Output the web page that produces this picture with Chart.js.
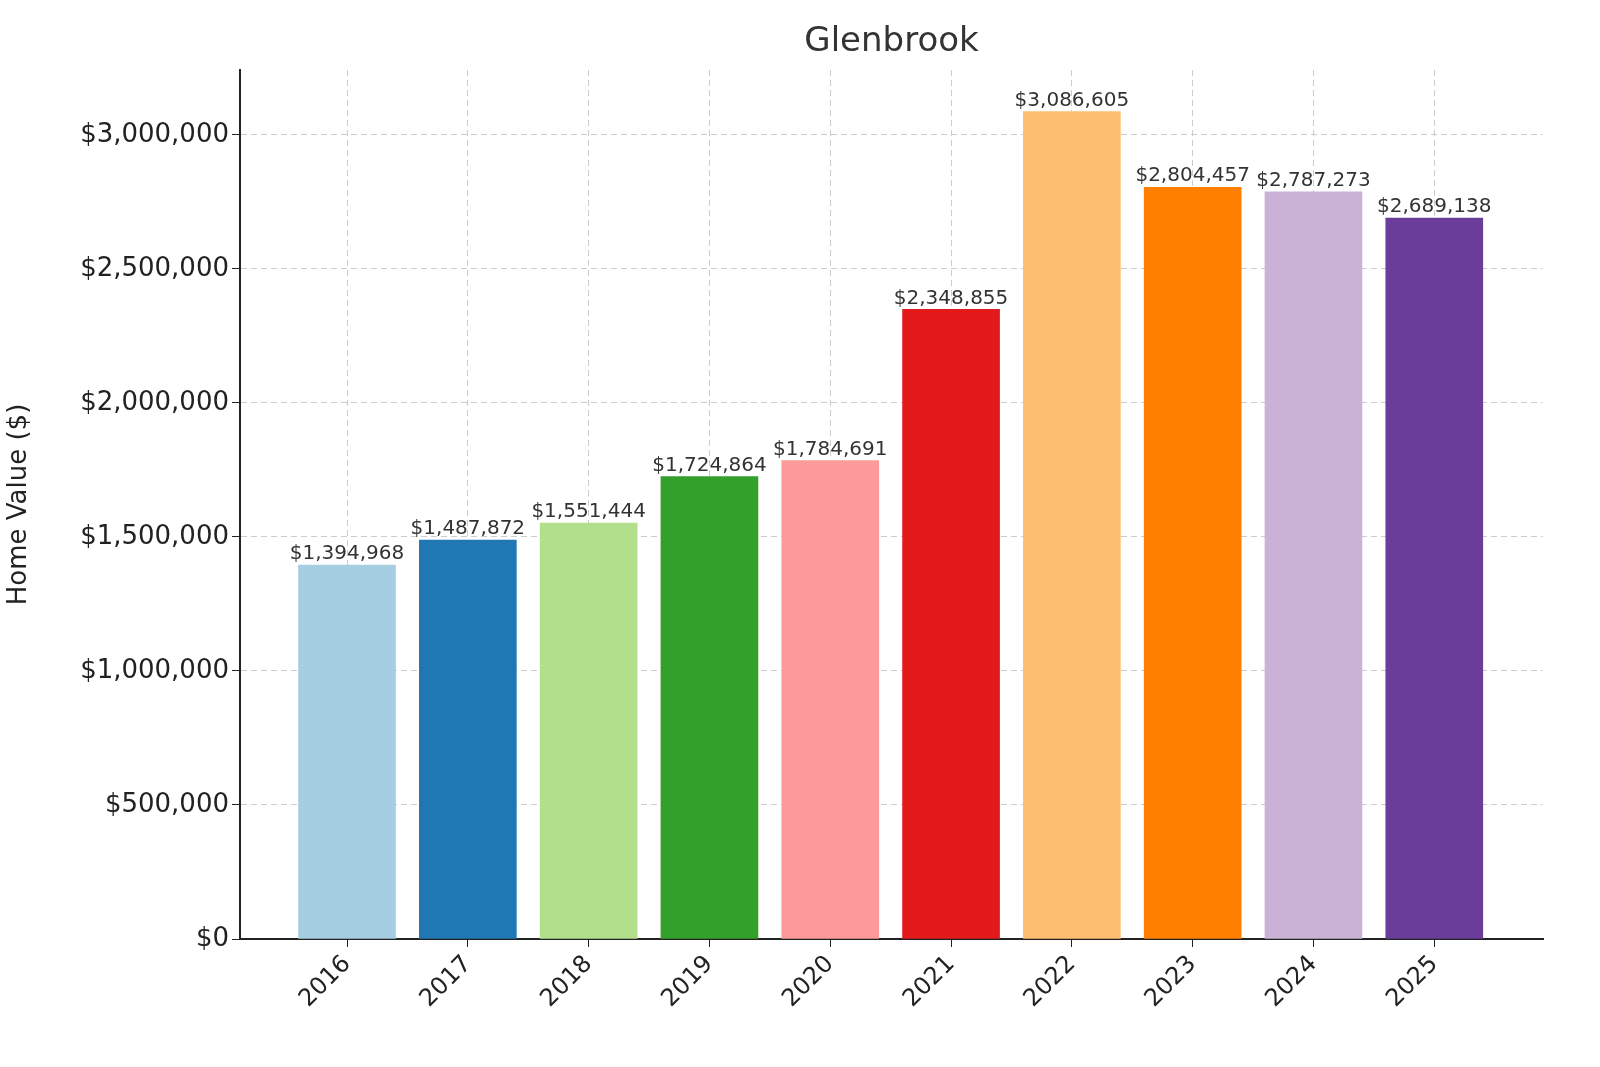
<!DOCTYPE html>
<html>
<head>
<meta charset="utf-8">
<script src="https://cdn.jsdelivr.net/npm/chart.js@4/dist/chart.umd.min.js"></script>
<style>
  body { margin: 0; background: #fff; overflow: hidden; }
  #wrap { width: 1600px; height: 1067px; }
</style>
</head>
<body>
<div id="wrap"><canvas id="chart" width="1600" height="1067"></canvas></div>
<script>
const years = ['2016','2017','2018','2019','2020','2021','2022','2023','2024','2025'];
const values = [1394968, 1487872, 1551444, 1724864, 1784691, 2348855, 3086605, 2804457, 2787273, 2689138];
const colors = ['#a6cee3','#1f78b4','#b2df8a','#33a02c','#fb9a99','#e31a1c','#fdbf6f','#ff7f00','#cab2d6','#6a3d9a'];
const yTicks = [0, 500000, 1000000, 1500000, 2000000, 2500000, 3000000];

const money = v => '$' + v.toLocaleString('en-US');
const FONT = 'DejaVu Sans';

const ctx = document.getElementById('chart').getContext('2d');

// labels above bars + title
const labelPlugin = {
    id: 'labels',
    afterDatasetsDraw(chart) {
        const c = chart.ctx;
        const meta = chart.getDatasetMeta(0);
        c.save();
        c.fillStyle = '#333';
        c.font = '20px ' + FONT;
        c.textAlign = 'center';
        c.textBaseline = 'bottom';
        meta.data.forEach((bar, i) => {
            c.fillText(money(values[i]), bar.x, bar.y - 1);
        });
        c.font = '34px ' + FONT;
        c.textBaseline = 'middle';
        c.fillText('Glenbrook', (chart.chartArea.left + chart.chartArea.right) / 2, 42);
        c.restore();
    }
};

new Chart(ctx, {
    type: 'bar',
    data: {
        datasets: [{
            data: values.map((v, i) => ({ x: i, y: v })),
            backgroundColor: colors,
            barThickness: 97
        }]
    },
    options: {
        responsive: false,
        animation: false,
        devicePixelRatio: 1,
        layout: { padding: { top: 70, right: 57, left: 0, bottom: 0 } },
        plugins: { legend: { display: false }, tooltip: { enabled: false } },
        scales: {
            x: {
                type: 'linear',
                offset: false,
                min: -0.886,
                max: 9.9,
                afterBuildTicks: s => { s.ticks = years.map((y, i) => ({ value: i })); },
                afterFit: s => { s.height = 128; },
                ticks: {
                    color: '#222',
                    font: { family: FONT, size: 24 },
                    maxRotation: 45,
                    minRotation: 45,
                    callback: v => years[v]
                },
                grid: { offset: false, color: '#ccc', tickColor: '#222', tickLength: 8 },
                border: { display: true, color: '#222', width: 2, dash: [6, 4] }
            },
            y: {
                min: 0,
                max: 3242000,
                afterBuildTicks: s => { s.ticks = yTicks.map(v => ({ value: v })); },
                afterFit: s => { s.width = 240; },
                ticks: {
                    color: '#222',
                    font: { family: FONT, size: 26 },
                    callback: v => money(v)
                },
                title: {
                    display: true,
                    text: 'Home Value ($)',
                    color: '#222',
                    font: { family: FONT, size: 26 }
                },
                grid: { color: '#ccc', tickColor: '#222', tickLength: 8 },
                border: { display: true, color: '#222', width: 2, dash: [6, 4] }
            }
        }
    },
    plugins: [labelPlugin]
});
</script>
</body>
</html>
